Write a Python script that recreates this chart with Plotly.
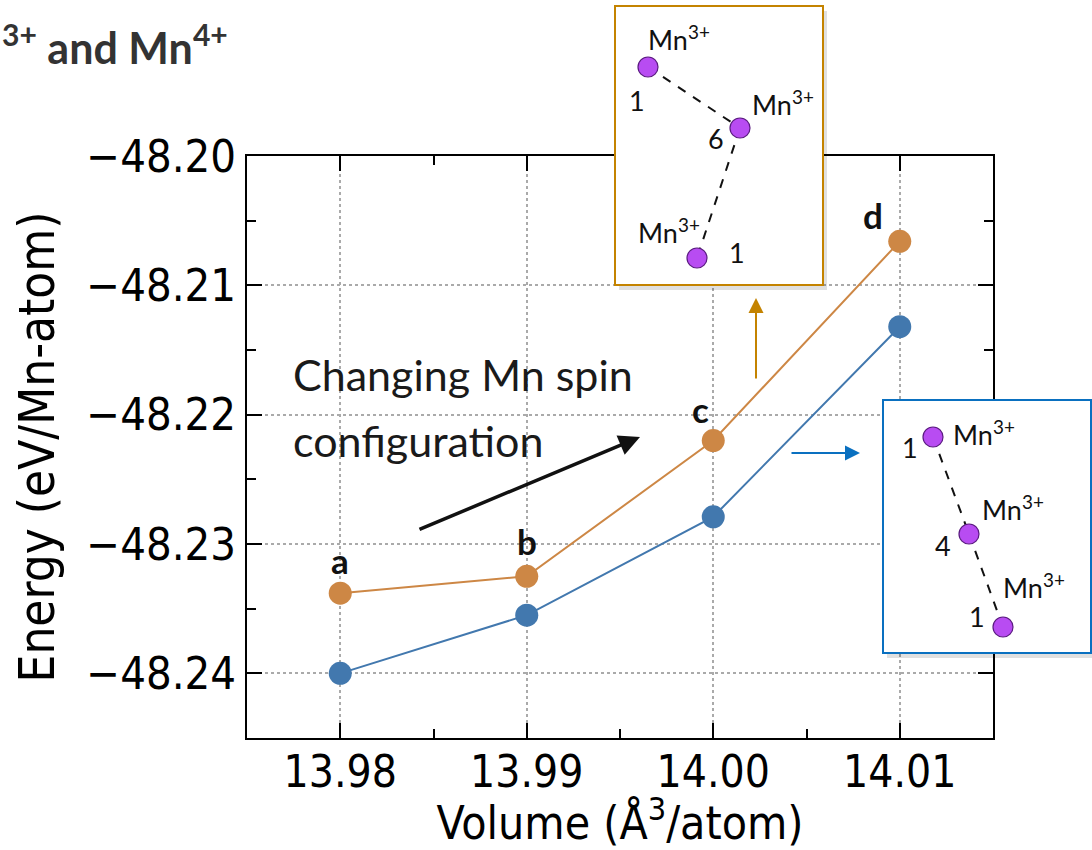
import plotly.graph_objects as go

# ---------------- data ----------------
volume = [13.98, 13.99, 14.00, 14.01]
energy_orange = [-48.2338, -48.2325, -48.2220, -48.2066]
energy_blue = [-48.2400, -48.2355, -48.2279, -48.2132]
point_labels = ["a", "b", "c", "d"]
x_ticks = [13.98, 13.99, 14.00, 14.01]
y_ticks = [-48.24, -48.23, -48.22, -48.21, -48.20]

# ---------------- styles ----------------
ORANGE = "#cd8745"
BLUE = "#4278ae"
INSET_ORANGE = "#c48300"
INSET_BLUE = "#0a70c0"
PURPLE = "#b84cf2"
PURPLE_EDGE = "#5a1a80"
W, H = 1092, 850
L, R, T, B = 247, 99, 156, 112
PW, PH = W - L - R, H - T - B
AX_FONT = "DejaVu Sans Condensed, DejaVu Sans, sans-serif"
TXT_FONT = "Lato, Open Sans, sans-serif"


def px(x):
    return (x - L) / PW


def py(y):
    return (H - B - y) / PH


fig = go.Figure()
fig.add_trace(go.Scatter(x=volume, y=energy_orange, mode="lines+markers",
                         line=dict(color=ORANGE, width=2),
                         marker=dict(color=ORANGE, size=23), showlegend=False))
fig.add_trace(go.Scatter(x=volume, y=energy_blue, mode="lines+markers",
                         line=dict(color=BLUE, width=2),
                         marker=dict(color=BLUE, size=23), showlegend=False))

shapes = []
annotations = []

# point labels a-d
label_shift = [(0, 33), (0, 35), (-13, 32), (-27, 26)]
for xv, yv, lab, (dx, dy) in zip(volume, energy_orange, point_labels, label_shift):
    annotations.append(dict(x=xv, y=yv, xref="x", yref="y", text=f"<b>{lab}</b>",
                            showarrow=False, xshift=dx, yshift=dy,
                            font=dict(family=TXT_FONT, size=35, color="#111111")))

# Changing spin text + arrow
annotations.append(dict(x=px(291), y=py(374), xref="paper", yref="paper",
                        text="Changing Mn spin", showarrow=False,
                        xanchor="left", yanchor="middle", align="left",
                        font=dict(family=TXT_FONT, size=43, color="#1a1a1a")))
annotations.append(dict(x=px(291), y=py(440), xref="paper", yref="paper",
                        text="configuration", showarrow=False,
                        xanchor="left", yanchor="middle", align="left",
                        font=dict(family=TXT_FONT, size=43, color="#1a1a1a")))
annotations.append(dict(x=px(640), y=py(437), xref="paper", yref="paper", text="",
                        showarrow=True, ax=418 - 640, ay=530 - 437, arrowhead=2,
                        arrowsize=1.2, arrowwidth=3.5, arrowcolor="#111111"))
# orange / blue arrows
annotations.append(dict(x=px(756), y=py(298), xref="paper", yref="paper", text="",
                        showarrow=True, ax=0, ay=82, arrowhead=2, arrowsize=1.5,
                        arrowwidth=2, arrowcolor=INSET_ORANGE))
annotations.append(dict(x=px(860), y=py(453), xref="paper", yref="paper", text="",
                        showarrow=True, ax=-70, ay=0, arrowhead=2, arrowsize=1.5,
                        arrowwidth=2, arrowcolor=INSET_BLUE))

# title fragment top-left
annotations.append(dict(x=px(0), y=py(44), xref="paper", yref="paper",
                        text="<b><sup>3+</sup> and Mn<sup>4+</sup></b>", showarrow=False,
                        xanchor="left", yanchor="middle",
                        font=dict(family=TXT_FONT, size=43, color="#333333")))


def rect(x0, y0, x1, y1, line, fill, width=2):
    shapes.append(dict(type="rect", xref="paper", yref="paper", layer="above",
                       x0=px(x0), x1=px(x1), y0=py(y1), y1=py(y0),
                       line=dict(color=line, width=width), fillcolor=fill))


def inset(box, color, dots, texts):
    x0, y0, x1, y1 = box
    shapes.append(dict(type="rect", xref="paper", yref="paper", layer="above",
                       x0=px(x0 + 4), x1=px(x1 + 4), y0=py(y1 + 5), y1=py(y0 + 5),
                       line=dict(width=0), fillcolor="rgba(0,0,0,0.12)"))
    rect(x0, y0, x1, y1, color, "white", 2)
    for (ax_, ay_), (bx_, by_) in zip(dots[:-1], dots[1:]):
        shapes.append(dict(type="line", xref="paper", yref="paper", layer="above",
                           x0=px(ax_), y0=py(ay_), x1=px(bx_), y1=py(by_),
                           line=dict(color="#111111", width=2, dash="dash")))
    r = 10
    for cx, cy in dots:
        shapes.append(dict(type="circle", xref="paper", yref="paper", layer="above",
                           x0=px(cx - r), x1=px(cx + r), y0=py(cy + r), y1=py(cy - r),
                           line=dict(color=PURPLE_EDGE, width=1.2), fillcolor=PURPLE))
    for tx, ty, t, anchor in texts:
        annotations.append(dict(x=px(tx), y=py(ty), xref="paper", yref="paper", text=t,
                                showarrow=False, xanchor=anchor, yanchor="middle",
                                font=dict(family=TXT_FONT, size=27, color="#111111")))


MN = "Mn<sup>3+</sup>"
inset((615, 6, 823, 285), INSET_ORANGE,
      [(648, 67), (740, 128), (697, 258)],
      [(646, 38, MN, "left"), (637, 101, "1", "center"),
       (750, 103, MN, "left"), (716, 138, "6", "center"),
       (636, 231, MN, "left"), (737, 253, "1", "center")])
inset((883, 400, 1091, 653), INSET_BLUE,
      [(933, 437), (969, 534), (1003, 627)],
      [(951, 433, MN, "left"), (910, 447, "1", "center"),
       (980, 508, MN, "left"), (943, 545, "4", "center"),
       (1001, 586, MN, "left"), (977, 616, "1", "center")])

axis_common = dict(showline=True, linecolor="black", linewidth=2, mirror="allticks",
                   ticks="inside", ticklen=15, tickwidth=2, tickcolor="black",
                   showgrid=True, gridcolor="#aaaaaa", griddash="dot", gridwidth=1.5,
                   zeroline=False, automargin=False)

fig.update_xaxes(**axis_common, range=[13.975, 14.015], tickvals=x_ticks,
                 ticktext=[f"{v:.2f}" for v in x_ticks], ticklabelstandoff=-6,
                 tickfont=dict(family=AX_FONT, size=44, color="black"),
                 minor=dict(dtick=0.005, tick0=13.975, ticklen=9, tickwidth=2,
                            tickcolor="black", ticks="inside", showgrid=False),
                 title=dict(text="Volume (Å<sup>3</sup>/atom)", standoff=16,
                            font=dict(family=AX_FONT, size=46, color="black")))
fig.update_yaxes(**axis_common, range=[-48.245, -48.2], tickvals=y_ticks,
                 ticktext=[f"\u2212{abs(v):.2f}" for v in y_ticks],
                 tickfont=dict(family=AX_FONT, size=45, color="black"),
                 minor=dict(dtick=0.005, tick0=-48.2, ticklen=9, tickwidth=2,
                            tickcolor="black", ticks="inside", showgrid=False),
                 title=dict(text="Energy (eV/Mn-atom)", standoff=16,
                            font=dict(family=AX_FONT, size=49, color="black")))

fig.update_layout(width=W, height=H, margin=dict(l=L, r=R, t=T, b=B),
                  paper_bgcolor="white", plot_bgcolor="white",
                  shapes=shapes, annotations=annotations, showlegend=False)

fig.write_html("out.html")
